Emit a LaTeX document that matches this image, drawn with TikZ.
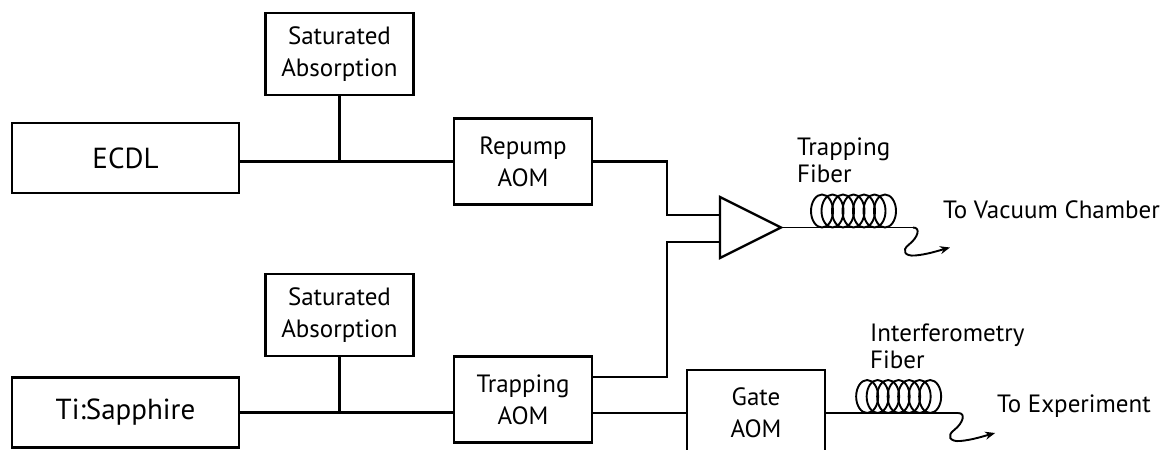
\documentclass[tikz,border=0pt]{standalone}
\usepackage{fontspec}
\setmainfont{PT Sans}
\usetikzlibrary{arrows.meta}

\tikzset{
  unit/.style={draw, line width=2.3pt, inner sep=0pt, align=center,
    font=\fontsize{25}{32}\selectfont},
  laser/.style={unit, minimum width=227pt, minimum height=70pt,
    font=\fontsize{29}{36}\selectfont},
  satabs/.style={unit, minimum width=148pt, minimum height=82pt},
  aom/.style={unit, minimum width=138pt, minimum height=86pt},
  beam/.style={line width=2.3pt},
  fiber/.style={line width=1.9pt},
  tag/.style={inner sep=0pt, align=left, font=\fontsize{25}{27}\selectfont}
}

\begin{document}
\begin{tikzpicture}[x=1pt,y=-1pt]
\useasboundingbox (0,0) rectangle (1163,450);

% lasers
\node[laser] (ecdl) at (125.5,158) {ECDL};
\node[laser] (tisa) at (125.5,412.5) {Ti:Sapphire};

% locks
\node[satabs] (sat1) at (339.5,54) {Saturated\\Absorption};
\node[satabs] (sat2) at (339.5,315) {Saturated\\Absorption};

% AOMs
\node[aom] (repump) at (523,161.5) {Repump\\AOM};
\node[aom] (trap) at (523,399.5) {Trapping\\AOM};
\node[aom] (gate) at (756,413) {Gate\\AOM};

\draw[beam] (ecdl.east |- repump.west) -- (repump.west);
\draw[beam] (sat1.south) -- (sat1.south |- repump.west);
\draw[beam] (tisa.east) -- (tisa.east -| trap.west);
\draw[beam] (sat2.south) -- (sat2.south |- tisa.east);

% amplifier
\coordinate (amp) at (720,227.5);
\coordinate (in1) at (720,215);
\coordinate (in2) at (720,242);
\draw[beam] (amp) ++(0,-30.5) -- ++(61,30.5) coordinate (ampout)
  -- ++(-61,30.5) -- cycle;

\draw[beam] (repump.east) -| ([xshift=-53pt]in1) -- (in1);
\draw[beam] ([yshift=22.5pt]trap.east) -| ([xshift=-53pt]in2) -- (in2);
\draw[beam] (gate.west) -- (gate.west -| trap.east);

% fibers
\foreach \s in {ampout, gate.east}{
  \begin{scope}[shift={(\s)}]
    \draw[fiber] (0,0) -- (132,0);
    \foreach \k in {0,...,6}
      \draw[fiber] (41+10.5*\k,-16.5) ellipse [x radius=11pt, y radius=16.5pt];
    \draw[fiber, -{Stealth[length=10pt,width=8pt]}] (132,0)
      .. controls (140,0) and (137,10) .. (128,17)
      .. controls (120,23) and (124,29) .. (134,28)
      .. controls (146,27) and (158,23) .. (169,20);
  \end{scope}
}

\node[tag, anchor=base west] (tfib) at (797,182) {Trapping\\Fiber};
\node[tag, anchor=base west] (ifib) at (870,368) {Interferometry\\Fiber};
\node[tag, anchor=base west] (vac) at (943,218) {To Vacuum Chamber};
\node[tag, anchor=base west] (expt) at (997,412) {To Experiment};

\end{tikzpicture}
\end{document}
